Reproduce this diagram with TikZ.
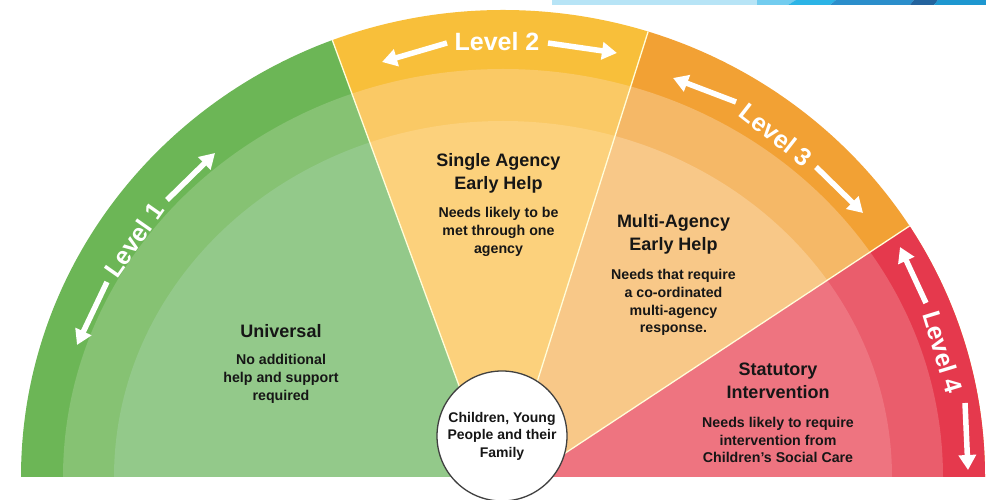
\documentclass[tikz,border=0pt]{standalone}
\usepackage{fontspec}
\setmainfont{Liberation Sans}
\usepackage{tikz}
\usepackage{xcolor}
\usetikzlibrary{calc,arrows.meta}

\definecolor{grn1}{HTML}{6CB656}
\definecolor{grn2}{HTML}{86C273}
\definecolor{grn3}{HTML}{93C98A}
\definecolor{yel1}{HTML}{F8BF3A}
\definecolor{yel2}{HTML}{FAC965}
\definecolor{yel3}{HTML}{FCD17C}
\definecolor{org1}{HTML}{F2A134}
\definecolor{org2}{HTML}{F5B867}
\definecolor{org3}{HTML}{F8C888}
\definecolor{red1}{HTML}{E5394D}
\definecolor{red2}{HTML}{EA5D6C}
\definecolor{red3}{HTML}{EE7480}
\definecolor{ink}{HTML}{161616}
\definecolor{sky1}{HTML}{B7E4F6}
\definecolor{sky2}{HTML}{72CCEF}
\definecolor{sky3}{HTML}{2CB4E6}
\definecolor{sky4}{HTML}{2B8ECB}
\definecolor{sky5}{HTML}{23639D}
\definecolor{sky6}{HTML}{1E97D0}

% three bands of one sector, clipped by the caller
\newcommand{\rings}[3]{%
  \fill[#1] (c) ellipse [x radius=482pt, y radius=467pt];
  \fill[#2] (c) ellipse [x radius=440pt, y radius=408pt];
  \fill[#3] (c) ellipse [x radius=389pt, y radius=356pt];}

\begin{document}
\begin{tikzpicture}[x=1pt,y=1pt]
        \tikzstyle{lvl}=[text=white,font=\bfseries\fontsize{25}{30}\selectfont,inner sep=0pt]
        \tikzstyle{arr}=[white,line width=5.5pt,-{Triangle[length=15pt,width=17pt]}]
        \tikzstyle{head}=[text=ink,font=\bfseries\fontsize{18}{23}\selectfont,align=center,inner sep=0pt]
        \tikzstyle{body}=[text=ink,font=\bfseries\fontsize{14.2}{17.8}\selectfont,align=center,inner sep=0pt]
        \tikzstyle{sep}=[white!85!yellow,line width=1.3pt]

        \useasboundingbox (0,0) rectangle (986,500);
        \clip (0,0) rectangle (986,500);

        \coordinate (c) at (503,23);
        \coordinate (gy) at (492.5,23);
        \coordinate (yo) at (507,23);
        \coordinate (or) at (529,23);
        \coordinate (gy2) at ($(gy)!1.5!(333,458)$);
        \coordinate (yo2) at ($(yo)!1.5!(648,468)$);
        \coordinate (or2) at ($(or)!1.5!(908,273)$);

        % sectors
        \begin{scope}
            \clip (0,23) -- (gy) -- (gy2) -- (0,700) -- cycle;
            \rings{grn1}{grn2}{grn3}
        \end{scope}
        \begin{scope}
            \clip (gy) -- (gy2) -- (yo2) -- (yo) -- cycle;
            \rings{yel1}{yel2}{yel3}
        \end{scope}
        \begin{scope}
            \clip (yo) -- (yo2) -- (1100,700) -- (1100,23) -- cycle;
            \rings{org1}{org2}{org3}
        \end{scope}
        \begin{scope}
            \clip (or) -- (or2) -- (1100,23) -- cycle;
            \rings{red1}{red2}{red3}
        \end{scope}
        \begin{scope}
            \clip (c) ellipse [x radius=482pt, y radius=467pt];
            \draw[sep] (gy) -- (gy2);
            \draw[sep] (yo) -- (yo2);
            \draw[sep] (or) -- (or2);
        \end{scope}

        % strip at the top
        \fill[sky1] (552,495) rectangle (757,500);
        \fill[sky2] (757,495) -- (788,495) -- (796,500) -- (757,500) -- cycle;
        \fill[sky3] (788,495) -- (830,495) -- (836,500) -- (796,500) -- cycle;
        \fill[sky4] (830,495) -- (910,495) -- (914,500) -- (836,500) -- cycle;
        \fill[sky5] (910,495) -- (934,495) -- (938,500) -- (914,500) -- cycle;
        \fill[sky6] (934,495) -- (986,495) -- (986,500) -- (938,500) -- cycle;

        % levels
        \node[lvl,rotate=55] (l1) at (134,260) {Level 1};
        \node[lvl] (l2) at (497,458) {Level 2};
        \node[lvl,rotate=-38] (l3) at (776,365) {Level 3};
        \node[lvl,rotate=-73] (l4) at (943,148) {Level 4};

        \draw[arr] (107,218) -- (77,155);
        \draw[arr] (167,300) -- (215,347);
        \draw[arr] (447,457) -- (382,438);
        \draw[arr] (548,457) -- (617,447);
        \draw[arr] (736,398) -- (673,422);
        \draw[arr] (816,333) -- (863,287);
        \draw[arr] (926,197) -- (900,253);
        \draw[arr] (965,97) -- (968,30);

        % texts
        \node[head] (uni) at (281,169) {Universal};
        \node[body] (unib) at ($(uni)+(0,-48)$) {No additional\\help and support\\required};
        \node[head] (one) at (498.5,327) {Single Agency\\Early Help};
        \node[body] (oneb) at ($(one)+(0,-59)$) {Needs likely to be\\met through one\\agency};
        \node[head] (multi) at (673.5,266) {Multi-Agency\\Early Help};
        \node[body] (multib) at ($(multi)+(0,-68.5)$) {Needs that require\\a co-ordinated\\multi-agency\\response.};
        \node[head] (stat) at (778,119) {Statutory\\Intervention};
        \node[body] (statb) at ($(stat)+(0,-59)$) {Needs likely to require\\intervention from\\Children’s Social Care};

        \node[circle,draw=black!75,line width=1.3pt,fill=white,minimum size=130pt,inner sep=0pt,
              align=center,text=ink,font=\bfseries\fontsize{14}{17.5}\selectfont] (fam) at (502,64)
              {Children, Young\\People and their\\Family};
    \end{tikzpicture}
\end{document}
